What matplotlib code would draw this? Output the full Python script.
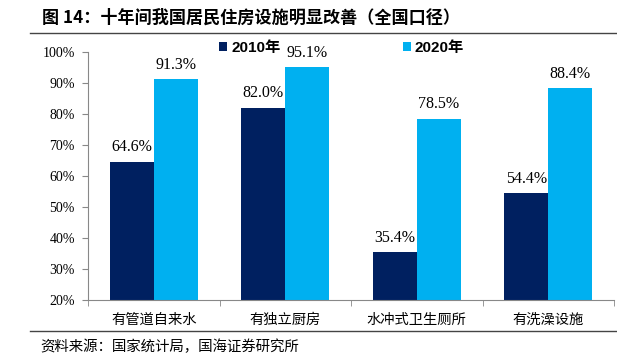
import matplotlib
matplotlib.use("Agg")
import matplotlib.pyplot as plt
import numpy as np
from matplotlib.lines import Line2D

categories = ["有管道自来水", "有独立厨房", "水冲式卫生厕所", "有洗澡设施"]
v2010 = [64.6, 82.0, 35.4, 54.4]
v2020 = [91.3, 95.1, 78.5, 88.4]
series_names = ["2010年", "2020年"]
yticks = [20, 30, 40, 50, 60, 70, 80, 90, 100]

c1 = "#002060"
c2 = "#00B0F0"
cjk = ["Noto Sans CJK SC", "DejaVu Sans"]
serif = ["Liberation Serif", "DejaVu Serif"]

fig = plt.figure(figsize=(6.17, 3.57), dpi=100)
ax = fig.add_axes([88/617, 1-300/357, (614-88)/617, (300-52)/357])

x = np.arange(len(categories))
w = 1/3
b1 = ax.bar(x - w/2, v2010, width=w, color=c1, label=series_names[0])
b2 = ax.bar(x + w/2, v2020, width=w, color=c2, label=series_names[1])

for bars, vals in ((b1, v2010), (b2, v2020)):
    for r, v in zip(bars, vals):
        ax.annotate(f"{v:.1f}%", (r.get_x() + r.get_width()/2, v), xytext=(0, 7.5),
                    textcoords="offset points", ha="center", va="baseline",
                    fontsize=11.5, family=serif)

ax.set_ylim(20, 100)
ax.set_xlim(-0.5, len(categories) - 0.5)
ax.set_yticks(yticks)
ax.set_yticklabels([f"{t}%" for t in yticks], family=serif, fontsize=10)
ax.set_xticks(x)
ax.set_xticklabels(categories, family=cjk, fontsize=10.3)
ax.tick_params(axis="x", length=0, pad=9)
ax.set_xticks(np.arange(-0.5, len(categories)), minor=True)
ax.tick_params(axis="x", which="minor", length=4, color="#888888")
ax.tick_params(axis="y", length=4.5, color="#888888", pad=5)
for s in ("top", "right"):
    ax.spines[s].set_visible(False)
for s in ("left", "bottom"):
    ax.spines[s].set_color("#888888")
    ax.spines[s].set_linewidth(0.8)

leg = ax.legend(loc="center", bbox_to_anchor=(0.482, 1.018), ncol=2, frameon=False,
                columnspacing=8.0, handlelength=0.55, handleheight=0.55, handletextpad=0.25,
                prop={"family": ["Liberation Sans", "Noto Sans CJK SC"], "weight": "bold", "size": 11})

fig.text(42/617, 1-18/357, "图 14：十年间我国居民住房设施明显改善（全国口径）", family=cjk,
         fontsize=12.3, weight="bold", va="center", ha="left")
fig.add_artist(Line2D([30/617, 1], [1-33/357, 1-33/357], color="#444444", lw=1))
fig.add_artist(Line2D([30/617, 1], [1-331/357, 1-331/357], color="#444444", lw=1))
fig.text(40/617, 1-347/357, "资料来源：国家统计局，国海证券研究所", family=cjk,
         fontsize=10.4, va="center", ha="left")

fig.savefig("out.png", dpi=100)
